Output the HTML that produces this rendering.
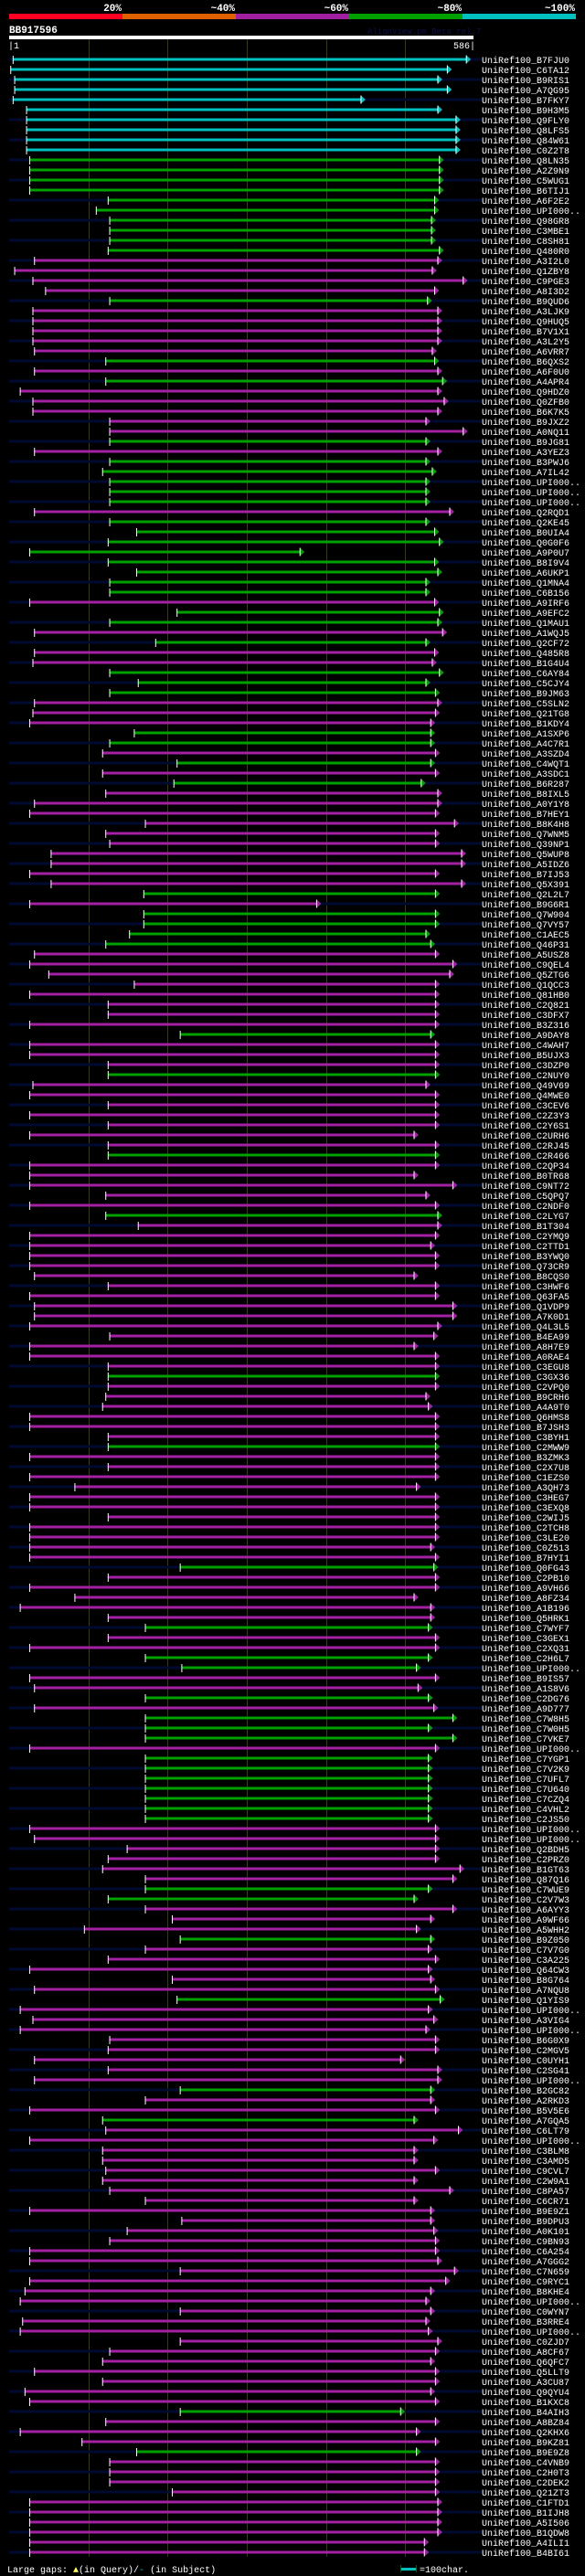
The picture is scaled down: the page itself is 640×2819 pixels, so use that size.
<!DOCTYPE html>
<html><head><meta charset="utf-8"><style>
html,body{margin:0;padding:0;background:#000;}
svg{display:block;}
text{font-family:"Liberation Mono",monospace;}
</style></head><body>
<svg id="chart" width="640" height="2819" viewBox="0 0 640 2819" xmlns="http://www.w3.org/2000/svg">
<rect x="0" y="0" width="640" height="2819" fill="#000"/>
<g id="header">
<rect x="10" y="15" width="124" height="6" fill="#ff0022"/>
<rect x="134" y="15" width="124" height="6" fill="#e06000"/>
<rect x="258" y="15" width="124" height="6" fill="#a020a0"/>
<rect x="382" y="15" width="124" height="6" fill="#00a000"/>
<rect x="506" y="15" width="124" height="6" fill="#00c0c0"/>
<g font-size="11" font-weight="bold" fill="#fff" text-anchor="end">
<text x="133" y="12">20%</text>
<text x="257" y="12">~40%</text>
<text x="381" y="12">~60%</text>
<text x="505" y="12">~80%</text>
<text x="629" y="12">~100%</text>
</g>
<text x="10" y="36" font-size="11" font-weight="bold" fill="#fff">BB917596</text>
<text x="402" y="37" font-size="9" fill="#10104a">AlignView.pm Beta rel.7</text>
<rect x="10" y="39" width="508" height="4" fill="#fff"/>
<text x="9" y="53" font-size="10" fill="#fff">|1</text>
<text x="520" y="53" font-size="10" fill="#fff" text-anchor="end">586|</text>
</g>
<g id="grid"></g>
<g id="rows"></g>
<g id="footer">
<text x="8" y="2815" font-size="10" fill="#fff">Large gaps: <tspan fill="#ffff66">▲</tspan>(in Query)/<tspan fill="#00c0c0">-</tspan> (in Subject)</text>
<rect x="439" y="2810" width="16" height="3" fill="#00c0c0"/>
<rect x="438" y="2807" width="1" height="8" fill="#006000"/>
<rect x="455" y="2807" width="1" height="8" fill="#006000"/>
<text x="459" y="2815" font-size="10" fill="#fff">=100char.</text>
</g>
</svg>
<script>
const ids = ["B7FJU0","C6TA12","B9RIS1","A7QG95","B7FKY7","B9H3M5","Q9FLY0","Q8LFS5","Q84W61","C0Z2T8",
"Q8LN35","A2Z9N9","C5WUG1","B6TIJ1","A6F2E2","UPI000..","Q98GR8","C3MBE1","C8SH81","Q480R0",
"A3I2L0","Q1ZBY8","C9PGE3","A8I3D2","B9QUD6","A3LJK9","Q9HUQ5","B7V1X1","A3L2Y5","A6VRR7",
"B6QXS2","A6F0U0","A4APR4","Q9HDZ0","Q0ZFB0","B6K7K5","B9JXZ2","A0NQ11","B9JG81","A3YEZ3",
"B3PWJ6","A7IL42","UPI000..","UPI000..","UPI000..","Q2RQD1","Q2KE45","B0UIA4","Q0G0F6","A9P0U7",
"B8I9V4","A6UKP1","Q1MNA4","C6B156","A9IRF6","A9EFC2","Q1MAU1","A1WQJ5","Q2CF72","Q485R8",
"B1G4U4","C6AY84","C5CJY4","B9JM63","C5SLN2","Q21TG8","B1KDY4","A1SXP6","A4C7R1","A3SZD4",
"C4WQT1","A3SDC1","B6R287","B8IXL5","A0Y1Y8","B7HEY1","B8K4H8","Q7WNM5","Q39NP1","Q5WUP8",
"A5IDZ6","B7IJ53","Q5X391","Q2L2L7","B9G6R1","Q7W904","Q7VY57","C1AEC5","Q46P31","A5USZ8",
"C9QEL4","Q5ZTG6","Q1QCC3","Q81HB0","C2Q821","C3DFX7","B3Z316","A9DAY8","C4WAH7","B5UJX3",
"C3DZP0","C2NUY0","Q49V69","Q4MWE0","C3CEV6","C2Z3Y3","C2Y6S1","C2URH6","C2RJ45","C2R466",
"C2QP34","B0TR68","C9NT72","C5QPQ7","C2NDF0","C2LYG7","B1T304","C2YMQ9","C2TTD1","B3YWQ0",
"Q73CR9","B8CQS0","C3HWF6","Q63FA5","Q1VDP9","A7K0D1","Q4L3L5","B4EA99","A8H7E9","A0RAE4",
"C3EGU8","C3GX36","C2VPQ0","B9CRH6","A4A9T0","Q6HMS8","B7JSH3","C3BYH1","C2MWW9","B3ZMK3",
"C2X7U8","C1EZS0","A3QH73","C3HEG7","C3EXQ8","C2WIJ5","C2TCH8","C3LE20","C0Z513","B7HYI1",
"Q0FG43","C2PB10","A9VH66","A8FZ34","A1B196","Q5HRK1","C7WYF7","C3GEX1","C2XQ31","C2H6L7",
"UPI000..","B9IS57","A1S8V6","C2DG76","A9D777","C7W8H5","C7W0H5","C7VKE7","UPI000..","C7YGP1",
"C7V2K9","C7UFL7","C7U640","C7CZQ4","C4VHL2","C2JS50","UPI000..","UPI000..","Q2BDH5","C2PRZ0",
"B1GT63","Q87Q16","C7WUE9","C2V7W3","A6AYY3","A9WF66","A5WHH2","B9Z050","C7V7G0","C3A225",
"Q64CW3","B8G764","A7NQU8","Q1YIS9","UPI000..","A3VIG4","UPI000..","B6G0X9","C2MGV5","C0UYH1",
"C2SG41","UPI000..","B2GC82","A2RKD3","B5V5E6","A7GQA5","C6LT79","UPI000..","C3BLM8","C3AMD5",
"C9CVL7","C2W9A1","C8PA57","C6CR71","B9E9Z1","B9DPU3","A0K101","C9BN93","C6A254","A7GGG2",
"C7N659","C9RYC1","B8KHE4","UPI000..","C0WYN7","B3RRE4","UPI000..","C0ZJD7","A8CF67","Q6QFC7",
"Q5LLT9","A3CU87","Q9QYU4","B1KXC8","B4AIH3","A8BZ84","Q2KHX6","B9KZ81","B9E9Z8","C4VNB9",
"C2H0T3","C2DEK2","Q21ZT3","C1FTD1","B1IJH8","A5I506","B1QDW8","A4ILI1","B4BI61"];
const identityClass = ("cccccccccc"+"gggggggggg"+"mmmmgmmmmm"+"gmgmmmmmgm"+"gggggmgggg"+"ggggmggmgm"+
"mgggmmmggm"+"gmgmmmmmmm"+"mmmgmggggm"+"mmmmmmmgmm"+"mgmmmmmmmg"+"mmmmmgmmmm"+"mmmmmmmmmm"+
"mgmmmmmmgm"+"mmmmmmmmmm"+"gmmmmmgmmg"+"gmmgmgggmg"+"ggggggmmmm"+"mmggmmmgmm"+"mmmgmmmmmm"+
"mmgmmgmmmm"+"mmmmmmmmmm"+"mmmmmmmmmm"+"mmmmgmmmgm"+"mmmmmmmmm").split("");
const starts = [6,3,8,8,6,23,23,23,23,23, 27,27,27,27,126,111,128,128,128,126,
33,8,31,47,128,31,31,31,31,33, 123,33,123,15,31,31,128,128,128,33,
128,119,128,128,128,33,128,162,126,27, 126,162,128,128,27,213,128,33,186,33,
31,128,164,128,33,31,27,159,128,119, 213,119,209,123,33,27,173,123,128,54,
54,27,54,171,27,171,171,153,123,33, 27,51,159,27,126,126,27,217,27,27,
126,126,31,27,126,27,126,27,126,126, 27,27,27,123,27,123,164,27,27,27,
27,33,126,27,33,33,27,128,27,27, 126,126,126,123,119,27,27,126,126,27,
126,27,84,27,27,126,27,27,27,27, 217,126,27,84,15,126,173,126,27,173,
219,27,33,173,33,173,173,173,27,173, 173,173,173,173,173,173,27,33,150,126,
119,173,173,126,173,207,96,217,173,126, 27,207,33,213,15,31,15,128,126,33,
126,33,217,173,27,119,123,27,119,119, 123,119,128,173,27,219,150,128,27,27,
217,27,21,15,217,18,15,217,128,119, 33,119,21,27,217,123,15,93,162,128,
128,128,207,27,27,27,27,27,27];
const ends = [584,560,548,560,451,548,571,571,571,571, 550,550,550,550,544,544,540,540,540,550,
548,541,580,544,535,548,548,548,548,541, 544,548,554,548,556,548,533,580,533,548,
533,541,533,533,533,563,533,544,550,374, 544,548,533,533,544,550,548,554,533,544,
541,550,533,545,548,545,539,539,539,545, 539,545,527,548,548,545,569,545,545,578,
578,545,578,545,395,545,545,533,539,545, 567,563,545,545,545,545,545,539,545,545,
545,545,533,545,545,545,545,518,545,545, 545,518,567,533,545,548,548,545,539,545,
545,518,545,545,567,567,548,543,518,545, 545,545,545,533,536,545,545,545,545,545,
545,545,521,545,545,545,545,545,539,545, 543,545,545,518,539,539,536,545,545,536,
521,545,523,536,543,567,536,567,545,536, 536,536,536,536,536,536,545,545,545,545,
576,567,536,518,567,539,521,539,536,545, 536,539,545,551,536,543,533,545,545,501,
548,548,539,539,545,518,574,543,518,518, 545,518,563,518,539,539,543,545,545,548,
569,558,539,533,539,533,536,548,545,539, 545,545,539,545,501,545,521,545,521,545,
545,545,545,548,548,548,548,531,531];
const gridTicks = [101,201,301,401,501];

const NS = "http://www.w3.org/2000/svg";
const COLORS = {c:"#00c0c0", g:"#00a000", m:"#a321a3"};
const xScale = r => 10 + (r - 1) * 0.8665;
const rowY = i => 65 + i * 11;
function mk(tag, attrs, parent){ const e=document.createElementNS(NS,tag); for(const k in attrs) e.setAttribute(k,attrs[k]); parent.appendChild(e); return e; }

const grid = document.getElementById("grid");
gridTicks.forEach(t => {
  const l = mk("rect",{x:Math.round(xScale(t)), y:43, width:1, height:2755, fill:"#3a3a10"}, grid);
  
  
});

const rows = document.getElementById("rows");
ids.forEach((id, i) => {
  const cy = rowY(i);
  const g = mk("g",{}, rows);
  
  
  if (i % 2 === 0) {
    const bg = mk("rect",{x:10, y:cy-1.5, width:517, height:3, fill:"#000a30"}, g);
    
    
  }
  const col = COLORS[identityClass[i]];
  const x0 = xScale(starts[i]);
  const tip = xScale(ends[i]);
  const bar = mk("rect",{x:x0, y:cy-1.5, width:Math.max(0,tip-5-x0), height:3, fill:col}, g);
  
  
  const tk = mk("rect",{x:x0-0.5, y:cy-4, width:1, height:9, fill:"#fff"}, g);
  
  
  const ar = mk("polygon",{points:`${tip-5},${cy-4.5} ${tip},${cy} ${tip-5},${cy+4.5}`, fill:col}, g);
  
  
  const ae = mk("rect",{x:tip-5.5, y:cy-4.5, width:1, height:9, fill:"#fff"}, g);
  
  
  const t = mk("text",{x:527, y:cy+4, "font-size":10, fill:"#fff"}, g);
  
  
  t.textContent = "UniRef100_" + id;
});
</script>
</body></html>
